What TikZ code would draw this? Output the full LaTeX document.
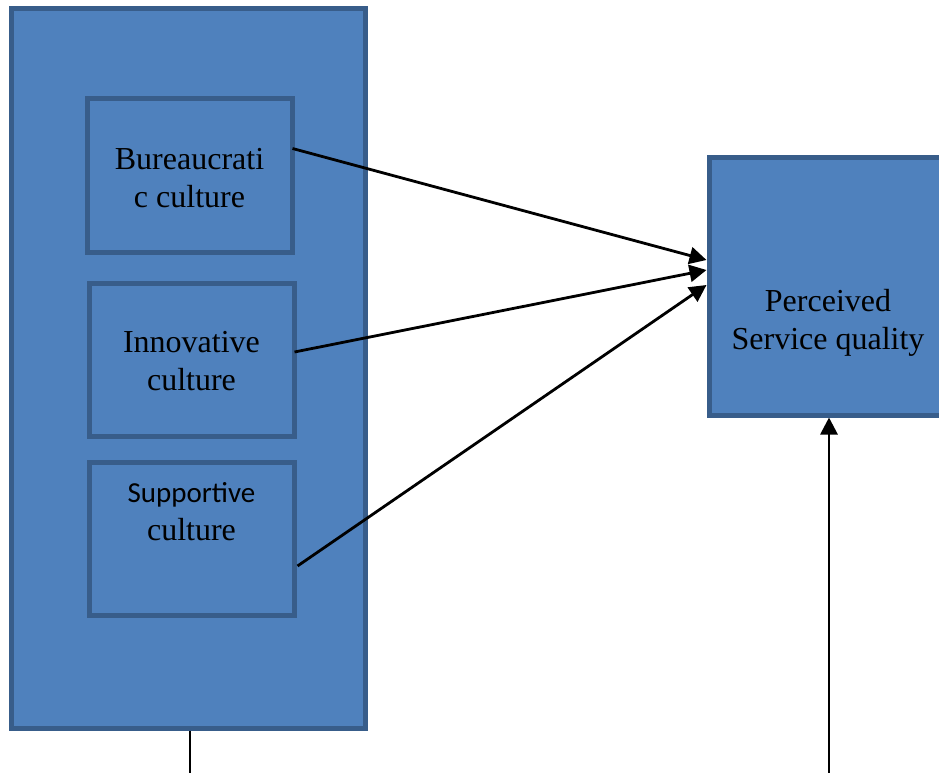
\documentclass[tikz,border=0pt]{standalone}
\usepackage{fontspec}
\setmainfont{Liberation Serif}
\newfontfamily\calibrifont{Carlito}
\usetikzlibrary{calc, positioning, arrows.meta}

\definecolor{boxfill}{HTML}{4F81BD}
\definecolor{boxline}{HTML}{385D8A}

\tikzset{
  culturebox/.style={draw=boxline, fill=boxfill, line width=5pt, minimum width=205pt, minimum height=153pt, inner sep=0pt, align=center, font=\fontsize{32}{38}\selectfont},
  boxtext/.style={align=center, inner sep=0pt, font=\fontsize{32}{38}\selectfont},
  link/.style={line width=2.8pt, -{Triangle[length=17pt, width=17pt]}},
}

\begin{document}
\begin{tikzpicture}[x=1pt, y=-1pt]
  \useasboundingbox (0,0) rectangle (939,773);
  \fill[white] (0,0) rectangle (939,773);

  % Outer block with the three cultures
  \node[draw=boxline, fill=boxfill, line width=5pt, minimum width=354pt, minimum height=719pt, inner sep=0pt] (outer) at (188,368.5) {};

  \node[culturebox] (bur) at (189.5,175.5) {};
  \node[boxtext] (burtext) at (189.5,178) {Bureaucrati\\c culture};
  \node[culturebox] (inn) at (191.5,359.5) {};
  \node[boxtext] (inntext) at (191.5,361) {Innovative\\culture};
  \node[culturebox] (sup) at (191.5,538.5) {};
  \node[boxtext, anchor=north] (suptext) at (191.5,482) {{\calibrifont\fontsize{29}{34}\selectfont Supportive}\\culture};

  % Outcome
  \node[culturebox, minimum width=251pt, minimum height=258pt] (perc) at (834.5,286) {};
  \node[boxtext] (perctext) at (828,323) {Perceived\\Service quality};

  % Links
  \draw[link] ($(bur.east)+(-2,-27)$) -- ($(perc.west)+(0,-26)$);
  \draw[link] ($(inn.east)+(-2,-7.5)$) -- ($(perc.west)+(0,-16)$);
  \draw[link] ($(sup.east)+(1,27.5)$) -- ($(perc.west)+(0,-1)$);

  \coordinate (bot1) at (190,775);
  \coordinate (bot2) at (829,775);
  \draw[line width=2.8pt] (outer.south -| bot1) -- (bot1);
  \draw[link] (bot2) -- (bot2 |- perc.south);
\end{tikzpicture}
\end{document}
